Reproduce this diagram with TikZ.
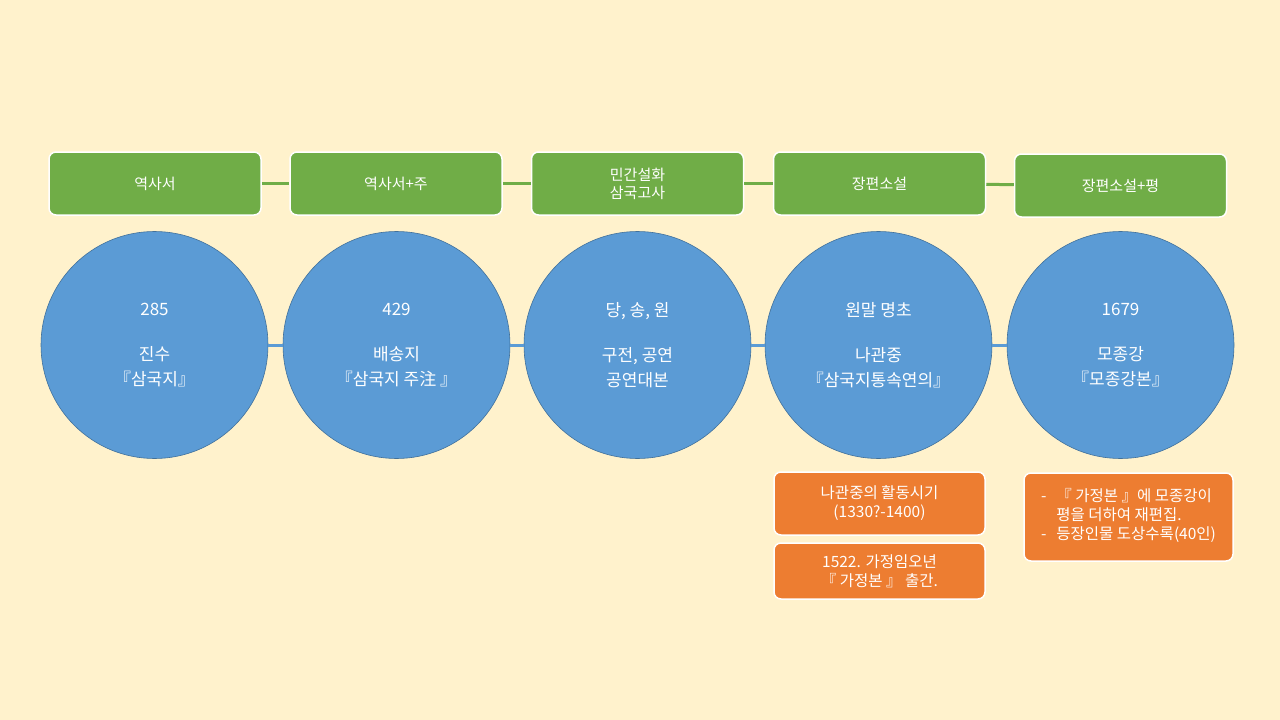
\documentclass[tikz,border=0pt]{standalone}
\usepackage{fontspec}
\setmainfont{Noto Sans CJK KR}
\usetikzlibrary{positioning}
\definecolor{Paper}{HTML}{FFF2CC}
\definecolor{Leaf}{HTML}{70AD47}
\definecolor{Sky}{HTML}{5B9BD5}
\definecolor{SkyEdge}{HTML}{41719C}
\definecolor{Tang}{HTML}{ED7D31}

\begin{document}
\begin{tikzpicture}[x=1pt,y=-1pt,
    era/.style={draw=white,line width=1.5pt,rounded corners=7pt,fill=Leaf,text=white,
      minimum width=212pt,minimum height=63pt,align=center,font=\fontsize{15}{18}\selectfont},
    year/.style={circle,draw=SkyEdge,line width=0.6pt,fill=Sky,text=white,
      minimum size=227pt,align=center,font=\fontsize{17}{25}\selectfont},
    note/.style={draw=white,line width=1.5pt,rounded corners=7pt,fill=Tang,text=white,
      minimum width=211pt,align=center,font=\fontsize{15.5}{19}\selectfont},
    link/.style={line width=3pt}]
  \fill[Paper] (0,0) rectangle (1280,720);
  \useasboundingbox (0,0) rectangle (1280,720);
  % top row
  \node[era] (e1) at (155,183.5) {역사서};
  \node[era] (e2) at (396,183.5) {역사서+주};
  \node[era] (e3) at (637.5,183.5) {민간설화\\삼국고사};
  \node[era] (e4) at (879.5,183.5) {장편소설};
  \node[era] (e5) at (1120.5,185.5) {장편소설+평};
  \draw[link,Leaf] (e1)--(e2);
  \draw[link,Leaf] (e2)--(e3);
  \draw[link,Leaf] (e3)--(e4);
  \draw[link,Leaf] (e4)--(e5);
  % circles
  \node[year] (c1) at (154.5,345) {285\\[20pt]진수\\『삼국지』};
  \node[year] (c2) at (396.5,345) {429\\[20pt]배송지\\『삼국지 주注 』};
  \node[year] (c3) at (637.5,345) {당, 송, 원\\[20pt]구전, 공연\\공연대본};
  \node[year] (c4) at (878.5,345) {원말 명초\\[20pt]나관중\\『삼국지통속연의』};
  \node[year] (c5) at (1120.5,345) {1679\\[20pt]모종강\\『모종강본』};
  \draw[link,Sky] (c1)--(c2);
  \draw[link,Sky] (c2)--(c3);
  \draw[link,Sky] (c3)--(c4);
  \draw[link,Sky] (c4)--(c5);
  % notes
  \node[note,minimum height=63pt] (n1) at (879.5,503.5) {나관중의 활동시기\\(1330?-1400)};
  \node[note,minimum height=56pt] (n2) at (879.5,571) {1522. 가정임오년\\『 가정본 』 출간.};
  \node[note,minimum width=209pt,minimum height=88pt,inner xsep=2pt] (n3) at (1128.5,517)
    {\begin{tabular}{@{}l@{\hspace{10pt}}l@{}}
      - & 『 가정본 』에 모종강이\\
        & 평을 더하여 재편집.\\
      - & 등장인물 도상수록(40인)
    \end{tabular}};
\end{tikzpicture}
\end{document}
